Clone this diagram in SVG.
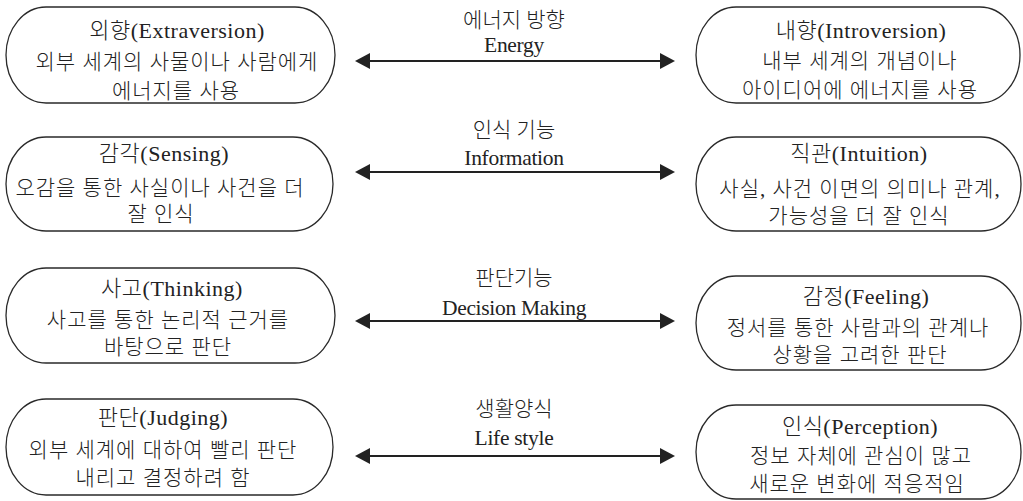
<svg xmlns="http://www.w3.org/2000/svg" width="1023" height="501" viewBox="0 0 1023 501">
<defs>
<style>
.box{fill:#fff;stroke:#2a2a2a;stroke-width:1.3}
text{font-family:"Liberation Serif","Noto Sans CJK KR",serif;fill:#222;text-anchor:middle}
.t{font-size:22px;letter-spacing:0.5px;font-weight:300}
.b{font-size:21px;letter-spacing:1px;font-weight:300}
.c{font-size:21px;font-weight:300}
.e{font-size:21.5px;letter-spacing:-0.3px}
.arr{stroke:#222;stroke-width:2;fill:none;marker-start:url(#ah);marker-end:url(#ah)}
</style>
<marker id="ah" viewBox="0 0 15 16" refX="13" refY="8" markerWidth="15" markerHeight="16" markerUnits="userSpaceOnUse" orient="auto-start-reverse">
<path d="M0,0 L15,8 L0,16 Z" fill="#222"/>
</marker>
</defs>
<rect width="1023" height="501" fill="#fff"/>

<g id="connectors">
<line class="arr" x1="357" y1="61" x2="673" y2="61"/>
<line class="arr" x1="357" y1="172" x2="673" y2="172"/>
<line class="arr" x1="357" y1="321" x2="673" y2="321"/>
<line class="arr" x1="357" y1="456" x2="673" y2="456"/>
</g>

<g id="label-energy">
<text class="c" x="514" y="27">에너지 방향</text>
<text class="e" x="514" y="52">Energy</text>
</g>
<g id="label-information">
<text class="c" x="514" y="137">인식 기능</text>
<text class="e" x="514" y="165">Information</text>
</g>
<g id="label-decision">
<text class="c" x="514" y="285">판단기능</text>
<text class="e" x="514" y="315">Decision Making</text>
</g>
<g id="label-lifestyle">
<text class="c" x="514" y="416">생활양식</text>
<text class="e" x="514" y="445">Life style</text>
</g>

<g id="node-extraversion">
<rect class="box" x="6" y="7" width="329" height="96" rx="40" ry="48"/>
<text class="t" x="177" y="38">외향(Extraversion)</text>
<text class="b" x="177" y="69">외부 세계의 사물이나 사람에게</text>
<text class="b" x="176" y="98">에너지를 사용</text>
</g>
<g id="node-introversion">
<rect class="box" x="696" y="7" width="324" height="96" rx="40" ry="48"/>
<text class="t" x="861" y="38">내향(Introversion)</text>
<text class="b" x="860" y="68">내부 세계의 개념이나</text>
<text class="b" x="860" y="97">아이디어에 에너지를 사용</text>
</g>
<g id="node-sensing">
<rect class="box" x="6" y="137" width="327" height="94" rx="40" ry="47"/>
<text class="t" x="164" y="161">감각(Sensing)</text>
<text class="b" x="160" y="195">오감을 통한 사실이나 사건을 더</text>
<text class="b" x="161" y="221">잘 인식</text>
</g>
<g id="node-intuition">
<rect class="box" x="696" y="137" width="325" height="94" rx="40" ry="47"/>
<text class="t" x="859" y="161">직관(Intuition)</text>
<text class="b" x="860" y="196">사실, 사건 이면의 의미나 관계,</text>
<text class="b" x="859" y="223">가능성을 더 잘 인식</text>
</g>
<g id="node-thinking">
<rect class="box" x="6" y="268" width="329" height="95" rx="40" ry="47.5"/>
<text class="t" x="172" y="296">사고(Thinking)</text>
<text class="b" x="168" y="327">사고를 통한 논리적 근거를</text>
<text class="b" x="168" y="354">바탕으로 판단</text>
</g>
<g id="node-feeling">
<rect class="box" x="696" y="276" width="325" height="94" rx="40" ry="47"/>
<text class="t" x="866" y="304">감정(Feeling)</text>
<text class="b" x="858" y="335">정서를 통한 사람과의 관계나</text>
<text class="b" x="860" y="362">상황을 고려한 판단</text>
</g>
<g id="node-judging">
<rect class="box" x="6" y="399" width="327" height="96" rx="40" ry="48"/>
<text class="t" x="163" y="425">판단(Judging)</text>
<text class="b" x="163" y="457">외부 세계에 대하여 빨리 판단</text>
<text class="b" x="163" y="485">내리고 결정하려 함</text>
</g>
<g id="node-perception">
<rect class="box" x="696" y="405" width="325" height="94" rx="40" ry="47"/>
<text class="t" x="860" y="434">인식(Perception)</text>
<text class="b" x="861" y="463">정보 자체에 관심이 많고</text>
<text class="b" x="857" y="491">새로운 변화에 적응적임</text>
</g>
</svg>
